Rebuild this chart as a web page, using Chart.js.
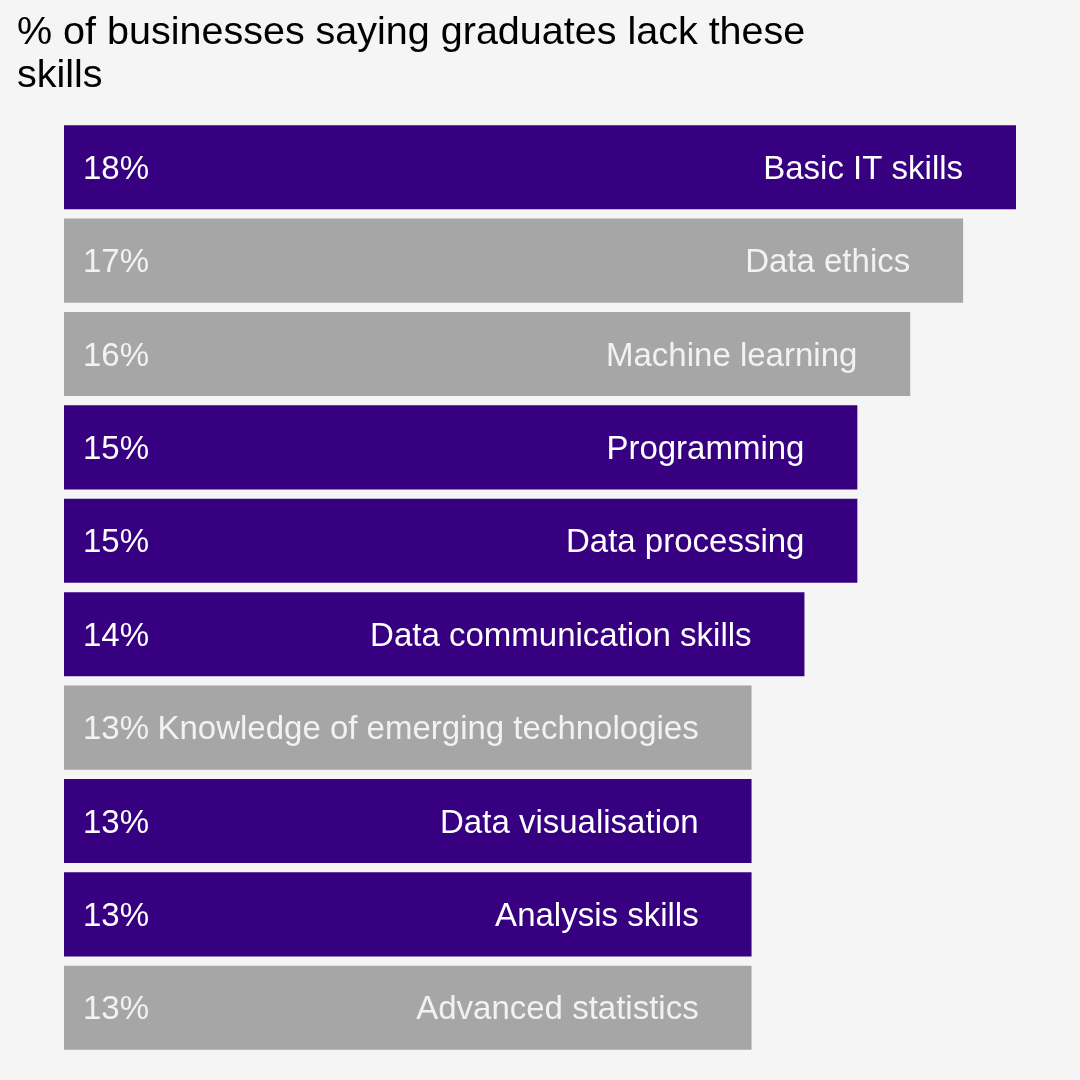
<!DOCTYPE html>
<html>
<head>
<meta charset="utf-8">
<script src="https://cdn.jsdelivr.net/npm/chart.js@4"></script>
<style>
html,body{margin:0;padding:0;background:#f5f5f5;}
#wrap{width:1080px;height:1080px;position:relative;}
</style>
</head>
<body>
<div id="wrap"><canvas id="c" width="1080" height="1080"></canvas></div>
<script>
const titleLines = ["% of businesses saying graduates lack these", "skills"];
const categories = ["Basic IT skills","Data ethics","Machine learning","Programming","Data processing","Data communication skills","Knowledge of emerging technologies","Data visualisation","Analysis skills","Advanced statistics"];
const values = [18,17,16,15,15,14,13,13,13,13];
const groups = ["data","other","other","data","data","data","other","data","data","other"];

const PURPLE = "#360080";
const GRAY = "#a6a6a6";

const bgPlugin = {
  id: 'bg',
  beforeDraw(chart){
    const ctx = chart.ctx;
    ctx.save();
    ctx.fillStyle = '#f5f5f5';
    ctx.fillRect(0,0,chart.width,chart.height);
    ctx.restore();
  }
};

const labelPlugin = {
  id: 'labels',
  afterDatasetsDraw(chart){
    const ctx = chart.ctx;
    const meta = chart.getDatasetMeta(0);
    const xs = chart.scales.x;
    ctx.save();
    ctx.font = '33px "Liberation Sans", Arial, sans-serif';
    ctx.textBaseline = 'middle';
    meta.data.forEach((bar, i) => {
      const y = bar.y + 2.5;
      ctx.fillStyle = groups[i] === 'data' ? '#ffffff' : '#f2f2f2';
      ctx.textAlign = 'left';
      ctx.fillText(values[i] + '%', xs.getPixelForValue(0) + 19, y);
      ctx.textAlign = 'right';
      ctx.fillText(categories[i], xs.getPixelForValue(values[i] - 1), y);
    });
    // title
    ctx.fillStyle = '#000000';
    ctx.textAlign = 'left';
    ctx.textBaseline = 'alphabetic';
    ctx.font = '39.5px "Liberation Sans", Arial, sans-serif';
    titleLines.forEach((t, k) => ctx.fillText(t, 17, 44 + k * 43));
    ctx.restore();
  }
};

new Chart(document.getElementById('c'), {
  type: 'bar',
  data: {
    labels: categories,
    datasets: [{
      data: values,
      backgroundColor: groups.map(g => g === 'data' ? PURPLE : GRAY),
      borderWidth: 0,
      barPercentage: 0.9,
      categoryPercentage: 1.0
    }]
  },
  options: {
    indexAxis: 'y',
    responsive: false,
    animation: false,
    devicePixelRatio: 1,
    layout: { padding: { left: 64, right: 64, top: 120.5, bottom: 25.5 } },
    scales: {
      x: { display: false, min: 0, max: 18 },
      y: { display: false }
    },
    plugins: {
      legend: { display: false },
      tooltip: { enabled: false },
      title: { display: false }
    }
  },
  plugins: [bgPlugin, labelPlugin]
});
</script>
</body>
</html>
